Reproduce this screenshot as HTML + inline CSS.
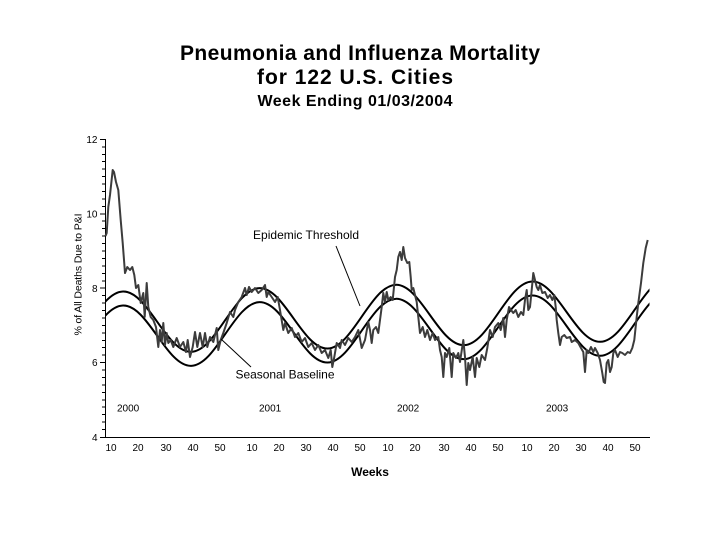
<!DOCTYPE html>
<html>
<head>
<meta charset="utf-8">
<style>
html,body{margin:0;padding:0;background:#fff;}
svg{display:block;}
text{font-family:"Liberation Sans",Arial,sans-serif;fill:#000;}
</style>
</head>
<body>
<svg width="720" height="540" viewBox="0 0 720 540" xmlns="http://www.w3.org/2000/svg">
<rect x="0" y="0" width="720" height="540" fill="#fff"/>

<!-- Titles -->
<text x="360" y="60" font-size="21" font-weight="bold" text-anchor="middle" textLength="360" lengthAdjust="spacing">Pneumonia and Influenza Mortality</text>
<text x="355" y="84" font-size="21" font-weight="bold" text-anchor="middle" textLength="196" lengthAdjust="spacing">for 122 U.S. Cities</text>
<text x="355" y="106" font-size="16" font-weight="bold" text-anchor="middle" textLength="195" lengthAdjust="spacing">Week Ending 01/03/2004</text>

<!-- Y axis label -->
<text transform="translate(81.5,274.5) rotate(-90)" font-size="10.5" text-anchor="middle" textLength="122" lengthAdjust="spacing">% of All Deaths Due to P&amp;I</text>

<!-- Axes -->
<g stroke="#000" stroke-width="1" shape-rendering="crispEdges" fill="none">
<line x1="105.5" y1="139" x2="105.5" y2="437.5"/>
<line x1="105" y1="437.5" x2="650" y2="437.5"/>
<path d="M100,437.5H105 M100,362.6H105 M100,288.2H105 M100,213.8H105 M100,139.4H105"/>
<path d="M102,429.56H105 M102,422.12H105 M102,414.68H105 M102,407.24H105 M102,399.8H105 M102,392.36H105 M102,384.92H105 M102,377.48H105 M102,370.04H105
M102,355.16H105 M102,347.72H105 M102,340.28H105 M102,332.84H105 M102,325.4H105 M102,317.96H105 M102,310.52H105 M102,303.08H105 M102,295.64H105
M102,280.76H105 M102,273.32H105 M102,265.88H105 M102,258.44H105 M102,251H105 M102,243.56H105 M102,236.12H105 M102,228.68H105 M102,221.24H105
M102,206.36H105 M102,198.92H105 M102,191.48H105 M102,184.04H105 M102,176.6H105 M102,169.16H105 M102,161.72H105 M102,154.28H105 M102,146.84H105"/>
</g>

<!-- Y tick labels -->
<g font-size="10" text-anchor="end">
<text x="97.5" y="441">4</text>
<text x="97.5" y="366">6</text>
<text x="97.5" y="292">8</text>
<text x="97.5" y="217.5">10</text>
<text x="97.5" y="143">12</text>
</g>

<!-- X tick labels -->
<g font-size="10" text-anchor="middle">
<text x="111" y="451">10</text><text x="138" y="451">20</text><text x="166" y="451">30</text><text x="193" y="451">40</text><text x="220" y="451">50</text>
<text x="252" y="451">10</text><text x="279" y="451">20</text><text x="306" y="451">30</text><text x="333" y="451">40</text><text x="360" y="451">50</text>
<text x="388" y="451">10</text><text x="415" y="451">20</text><text x="444" y="451">30</text><text x="471" y="451">40</text><text x="498" y="451">50</text>
<text x="527" y="451">10</text><text x="554" y="451">20</text><text x="581" y="451">30</text><text x="608" y="451">40</text><text x="635" y="451">50</text>
</g>

<!-- Year labels -->
<g font-size="10">
<text x="117" y="411.5">2000</text>
<text x="259" y="411.5">2001</text>
<text x="397" y="411.5">2002</text>
<text x="546" y="411.5">2003</text>
</g>

<text x="370" y="476" font-size="12" font-weight="bold" text-anchor="middle">Weeks</text>

<!-- Baseline & threshold curves -->
<defs>
<clipPath id="cp"><rect x="105.5" y="0" width="544" height="540"/></clipPath>
</defs>
<g clip-path="url(#cp)">
<g transform="skewY(-1.4035)" fill="none" stroke="#000" stroke-width="2">
<path d="M54.8,370.51 c12.341,0 22.979,-15.12 34.1,-31
s21.759,-31 34.1,-31 s22.979,15.12 34.1,31 s21.759,31 34.1,31 s22.979,-15.12 34.1,-31
s21.759,-31 34.1,-31 s22.979,15.12 34.1,31 s21.759,31 34.1,31 s22.979,-15.12 34.1,-31
s21.759,-31 34.1,-31 s22.979,15.12 34.1,31 s21.759,31 34.1,31 s22.979,-15.12 34.1,-31
s21.759,-31 34.1,-31 s22.979,15.12 34.1,31 s21.759,31 34.1,31 s22.979,-15.12 34.1,-31
s21.759,-31 34.1,-31"/>
<path d="M54.8,356.51 c12.341,0 22.979,-15.12 34.1,-31
s21.759,-31 34.1,-31 s22.979,15.12 34.1,31 s21.759,31 34.1,31 s22.979,-15.12 34.1,-31
s21.759,-31 34.1,-31 s22.979,15.12 34.1,31 s21.759,31 34.1,31 s22.979,-15.12 34.1,-31
s21.759,-31 34.1,-31 s22.979,15.12 34.1,31 s21.759,31 34.1,31 s22.979,-15.12 34.1,-31
s21.759,-31 34.1,-31 s22.979,15.12 34.1,31 s21.759,31 34.1,31 s22.979,-15.12 34.1,-31
s21.759,-31 34.1,-31"/>
</g>
</g>

<!-- Observed data -->
<polyline fill="none" stroke="#3c3c3c" stroke-width="2" stroke-linejoin="round" points="
105.5,236 106.7,233 108.3,207 110,195 112.7,170 114,172 116,182 118.3,190 120.7,220 122.7,243 125,273 127.3,267 130,270 132.3,267 134.3,275 136,288 138.3,285 140.7,303 143.3,293 144.7,317 146.7,283 148.3,307 150.7,317 153.3,320 156,327 158.3,347 160,330 161.7,342 163.3,323 165,345 166.7,333 168.3,343 170.7,340 173.3,347 176.7,338 180,347 183.3,342 186,352 187.7,340 190,357 192.7,347 195,332 197.3,347 200,333 202.7,347 205,333 207.3,347 210,337 213.3,342 216.7,328 218.3,350 220.7,340 223.3,333 226.7,323 230,312 233.3,317 235,310 238.3,302 241.7,297 245,288 246.7,295 249,287 251.7,292 255,288 258.3,293 261.7,290 265,285 266.7,297 268.3,292 271.7,297 275,302 277.7,297 280,310 283.3,330 285,323 288.3,333 291.7,328 295,337 298.3,333 301.7,342 305,338 308.3,347 311.7,343 315,350 318.3,345 321.7,353 325,350 328.3,358 330.7,350 332.3,367 334.3,357 336.7,343 340,348 341.7,340 345,345 348.3,338 351.7,342 355,337 358.3,330 361.7,348 365,340 368.3,322 370,330 371.7,343 373.3,330 376,327 378.3,333 381.7,307 383.3,293 385,302 386.7,292 388.3,300 390.7,297 392.7,300 395,277 396.7,270 398.3,257 400,252 401.7,260 403.3,247 405,258 407.3,263 409.3,262 410.7,277 411.7,290 413.3,288 416.7,302 418.3,317 420,333 422.7,327 425,337 427.3,330 430,340 432.7,333 435,340 438.3,337 440,350 441.7,357 443.3,377 445,353 446.7,357 449.3,348 451.7,377 453.3,353 456,358 458.3,353 460,362 463.3,340 465,357 466.7,385 468.3,363 470,370 472.7,357 475,377 476.7,358 479.3,367 481.7,355 485,360 487.3,348 490,330 492.7,337 495,327 498.3,323 500.7,330 503.3,318 505,337 506.7,320 509,307 511,310 513.3,313 515.7,310 518.3,317 521,312 523.3,315 525,300 526.7,290 528.3,310 530,307 531.7,290 533.3,273 535,280 536.7,287 538.3,290 540,285 542.3,293 545,292 547.7,298 550,295 552.3,300 554.3,295 555.7,307 556.7,320 558.3,333 560,345 561.7,337 564.3,335 566.7,338 570,337 571.7,342 575,340 578.3,343 581,348 583.3,352 585,372 586.7,350 588.3,353 591,347 593.3,352 595,348 597.7,353 600,360 602.3,373 603.7,382 605,383 606.7,363 608.3,360 610,372 611.7,367 613.3,353 615,350 617.7,357 620,352 622.3,353 625,355 627.7,352 630,353 632.3,348 634.3,340 636.7,317 638.3,303 641,283 643.3,263 645.7,248 647.7,240"/>

<!-- Annotations -->
<line x1="336" y1="246" x2="360" y2="306" stroke="#000" stroke-width="1"/>
<line x1="221" y1="339" x2="251" y2="367" stroke="#000" stroke-width="1"/>
<text x="253" y="239" font-size="12" textLength="106" lengthAdjust="spacing">Epidemic Threshold</text>
<text x="235.5" y="378.5" font-size="12" textLength="99" lengthAdjust="spacing">Seasonal Baseline</text>
</svg>
</body>
</html>
